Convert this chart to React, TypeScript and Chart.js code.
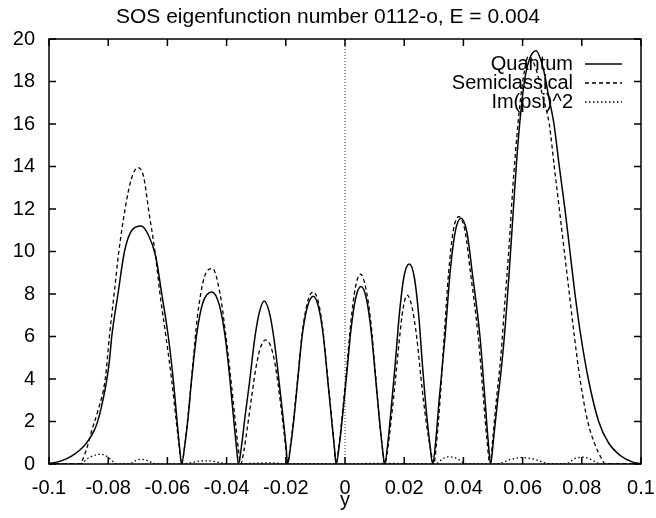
import { useEffect, useRef } from "react";
import { Chart, registerables } from "chart.js";

Chart.register(...registerables);

const FONT = '"Liberation Sans", Arial, Helvetica, sans-serif';
const TITLE = "SOS eigenfunction number 0112-o, E = 0.004";
const X_LABEL = "y";

const X_MIN = -0.1;
const X_MAX = 0.1;
const X_STEP = 0.02;
const Y_MIN = 0;
const Y_MAX = 20;
const Y_STEP = 2;

const quantumX = [
  -0.1, -0.097, -0.094, -0.091, -0.0885, -0.0865, -0.085, -0.0838, -0.0826, -0.0815, -0.0805, -0.0796, -0.0788, -0.0767, -0.0745, -0.072, -0.0689, -0.0665, -0.064, -0.0619, -0.0597, -0.058, -0.0567, -0.0559, -0.0552,
  -0.0542, -0.053, -0.0518, -0.05, -0.048, -0.045, -0.0425, -0.0405, -0.0389, -0.0374, -0.0366, -0.036,
  -0.035, -0.0338, -0.0323, -0.0305, -0.029, -0.0273, -0.0255, -0.024, -0.0222, -0.0207, -0.0199, -0.0194,
  -0.0184, -0.0172, -0.016, -0.0145, -0.0127, -0.0107, -0.0088, -0.0073, -0.0058, -0.0044, -0.0036, -0.003,
  -0.002, -0.0008, 0.0005, 0.002, 0.0036, 0.0054, 0.0072, 0.0088, 0.0103, 0.0117, 0.0126, 0.0134,
  0.0144, 0.0156, 0.0169, 0.0184, 0.0199, 0.0217, 0.0234, 0.0249, 0.0262, 0.0276, 0.0287, 0.0296,
  0.0306, 0.0318, 0.0338, 0.0355, 0.0372, 0.0392, 0.0412, 0.043, 0.0456, 0.0472, 0.0483, 0.0492,
  0.0502, 0.0515, 0.0529, 0.0542, 0.0554, 0.0566, 0.0578, 0.059, 0.0605, 0.0622, 0.0645, 0.067, 0.0688, 0.0706, 0.0724, 0.0743, 0.076, 0.0777, 0.0797, 0.0822, 0.0857, 0.089, 0.093, 0.097, 0.1,
];
const quantumY = [
  0.02, 0.1, 0.25, 0.5, 0.8, 1.15, 1.5, 1.9, 2.5, 3.2, 3.95, 4.85, 6.0, 8.0, 10.0, 11.0, 11.2, 10.8, 9.8, 8.0, 6.0, 3.95, 1.96, 0.8, 0,
  0.8, 2.2, 4.0, 6.2, 7.6, 8.1, 7.5, 6.0, 4.0, 1.8, 0.7, 0,
  0.8, 2.2, 3.8, 5.9, 7.1, 7.67, 7.1, 5.9, 3.8, 1.9, 0.8, 0,
  0.8, 2.2, 3.9, 6.0, 7.4, 7.9, 7.3, 6.0, 3.9, 1.9, 0.8, 0,
  0.8, 2.3, 4.1, 6.3, 7.8, 8.35, 7.8, 6.3, 4.1, 2.0, 0.8, 0,
  0.9, 2.6, 4.6, 7.1, 8.8, 9.41, 8.8, 7.0, 4.6, 2.3, 0.9, 0,
  1.0, 3.0, 6.0, 9.0, 10.9, 11.56, 10.9, 9.0, 6.0, 3.2, 1.2, 0,
  1.2, 2.9, 4.6, 6.6, 8.9, 11.4, 13.9, 16.0, 17.9, 19.0, 19.45, 18.6, 17.3, 16, 14, 12, 10, 8, 6, 4, 2, 1.0, 0.4, 0.1, 0.02,
];

const semiX = [
  -0.1, -0.0895, -0.0885, -0.087, -0.0855, -0.0835, -0.081, -0.0796, -0.078, -0.0764, -0.0743, -0.0722, -0.07, -0.068, -0.0664, -0.0642, -0.0625, -0.0605, -0.0586, -0.057, -0.056, -0.0552,
  -0.0542, -0.053, -0.0516, -0.0498, -0.0475, -0.0448, -0.0422, -0.0404, -0.0388, -0.0372, -0.0361, -0.0352,
  -0.0342, -0.033, -0.0316, -0.03, -0.0285, -0.0268, -0.025, -0.0235, -0.022, -0.0207, -0.0199, -0.0195,
  -0.0185, -0.0173, -0.016, -0.0145, -0.0127, -0.0107, -0.0088, -0.0073, -0.0058, -0.0044, -0.0036, -0.003,
  -0.002, -0.0008, 0.0005, 0.002, 0.0035, 0.0052, 0.007, 0.0087, 0.0102, 0.0116, 0.0126, 0.0134,
  0.0145, 0.0157, 0.017, 0.0184, 0.0196, 0.021, 0.0226, 0.0242, 0.0257, 0.0274, 0.0289, 0.03,
  0.031, 0.0322, 0.0336, 0.035, 0.0366, 0.0385, 0.0405, 0.0424, 0.045, 0.0467, 0.0479, 0.049,
  0.05, 0.0512, 0.0526, 0.054, 0.0552, 0.057, 0.059, 0.0605, 0.062, 0.0645, 0.0668, 0.069, 0.0707, 0.0724, 0.0741, 0.0758, 0.0775, 0.0794, 0.082, 0.0845, 0.0865, 0.088, 0.1,
];
const semiY = [
  0, 0, 0.25, 0.85, 1.6, 2.5, 4, 6, 8, 10, 12, 13.4, 13.95, 13.5, 12, 10, 8, 6, 4, 2, 0.8, 0,
  0.8, 2.3, 4.4, 7.0, 8.8, 9.2, 8.0, 6.2, 4.3, 2.2, 0.8, 0,
  0.6, 1.7, 3.1, 4.6, 5.5, 5.84, 5.5, 4.6, 3.1, 1.6, 0.6, 0,
  0.8, 2.2, 4.0, 6.1, 7.6, 8.1, 7.5, 6.1, 4.0, 2.0, 0.8, 0,
  0.9, 2.5, 4.4, 6.7, 8.3, 8.94, 8.3, 6.7, 4.4, 2.1, 0.8, 0,
  0.8, 2.2, 3.9, 5.9, 7.3, 7.95, 7.4, 6.0, 4.0, 2.0, 0.7, 0,
  1.1, 3.2, 6.2, 9.0, 11.0, 11.64, 11.0, 9.0, 6.0, 3.2, 1.2, 0,
  1.3, 3.1, 5.0, 7.6, 9.8, 13.6, 16.8, 18.4, 19.2, 18.6, 17.3, 16, 14, 12, 10, 8, 6, 4, 2, 0.9, 0.3, 0, 0,
];

const imX = [
  -0.1, -0.0895, -0.087, -0.0845, -0.0828, -0.081, -0.079, -0.0775, -0.0755, -0.0726, -0.0705, -0.0687, -0.0665, -0.0642, -0.058,
  -0.0537, -0.05, -0.0467, -0.0435, -0.04, -0.036, -0.03, -0.025, -0.02, -0.01, 0, 0.01, 0.02, 0.0307,
  0.033, 0.0351, 0.0375, 0.041, 0.049, 0.052, 0.056, 0.06, 0.064, 0.069, 0.0747, 0.0775, 0.0803, 0.083, 0.086, 0.09, 0.1,
];
const imY = [
  0, 0, 0.25, 0.42, 0.46, 0.4, 0.2, 0.02, 0, 0.02, 0.17, 0.22, 0.15, 0.02, 0,
  0.02, 0.12, 0.15, 0.1, 0.01, 0, 0.04, 0.05, 0.01, 0.02, 0, 0.03, 0.02, 0.01,
  0.25, 0.34, 0.28, 0.02, 0, 0.02, 0.22, 0.3, 0.22, 0.02, 0.02, 0.25, 0.32, 0.22, 0.02, 0, 0,
];

const zeroLineX = [0, 0];
const zeroLineY = [0, 20];

const toPoints = (xs: number[], ys: number[]) => xs.map((x, i) => ({ x, y: ys[i] }));

const framePlugin = {
  id: "gnuplotFrame",
  afterDraw(chart: any) {
    const { ctx, chartArea, scales } = chart;
    const { left, right, top, bottom } = chartArea;
    const xs = scales.x;
    const ys = scales.y;
    const tick = 7;
    ctx.save();
    ctx.strokeStyle = "#000";
    ctx.lineWidth = 1.5;
    ctx.setLineDash([]);
    ctx.strokeRect(left, top, right - left, bottom - top);
    ctx.beginPath();
    xs.ticks.forEach((t: any) => {
      const px = xs.getPixelForValue(t.value);
      ctx.moveTo(px, bottom);
      ctx.lineTo(px, bottom - tick);
      ctx.moveTo(px, top);
      ctx.lineTo(px, top + tick);
    });
    ys.ticks.forEach((t: any) => {
      const py = ys.getPixelForValue(t.value);
      ctx.moveTo(left, py);
      ctx.lineTo(left + tick, py);
      ctx.moveTo(right, py);
      ctx.lineTo(right - tick, py);
    });
    ctx.stroke();

    ctx.fillStyle = "#000";
    ctx.font = `21px ${FONT}`;
    ctx.textAlign = "center";
    ctx.textBaseline = "middle";
    ctx.fillText(TITLE, chart.width / 2, 17);

    ctx.font = `20px ${FONT}`;
    ctx.fillText(X_LABEL, (left + right) / 2, 500);

    // gnuplot-style key: right-aligned text, sample line on the right
    const items = chart.data.datasets.filter((d: any) => d.label);
    const textRight = 573;
    const sampleL = 585;
    const sampleR = 622;
    ctx.textAlign = "right";
    items.forEach((d: any, i: number) => {
      const yy = 64 + i * 19;
      ctx.fillText(d.label, textRight, yy);
      ctx.beginPath();
      ctx.lineWidth = d.borderWidth;
      ctx.setLineDash(d.borderDash || []);
      ctx.moveTo(sampleL, yy);
      ctx.lineTo(sampleR, yy);
      ctx.stroke();
    });
    ctx.restore();
  },
};

export default function App() {
  const ref = useRef<HTMLCanvasElement>(null);
  useEffect(() => {
    document.body.style.margin = "0";
    const canvas = ref.current;
    if (!canvas) return;
    const tickFont = { family: FONT, size: 20 };
    const chart = new Chart(canvas, {
      type: "line",
      data: {
        datasets: [
          {
            label: "Quantum",
            data: toPoints(quantumX, quantumY),
            borderColor: "#000",
            borderWidth: 1.5,
            pointRadius: 0,
            cubicInterpolationMode: "monotone",
            fill: false,
          },
          {
            label: "Semiclassical",
            data: toPoints(semiX, semiY),
            borderColor: "#000",
            borderWidth: 1.3,
            borderDash: [4, 3],
            pointRadius: 0,
            cubicInterpolationMode: "monotone",
            fill: false,
          },
          {
            label: "Im(psi)^2",
            data: toPoints(imX, imY),
            borderColor: "#000",
            borderWidth: 1.3,
            borderDash: [1.5, 2.5],
            pointRadius: 0,
            cubicInterpolationMode: "monotone",
            fill: false,
          },
          {
            label: "",
            data: toPoints(zeroLineX, zeroLineY),
            borderColor: "#333",
            borderWidth: 1,
            borderDash: [1, 2],
            pointRadius: 0,
            tension: 0,
            fill: false,
          },
        ],
      },
      options: {
        responsive: false,
        animation: false,
        devicePixelRatio: 1,
        layout: { padding: { top: 39, right: 15, left: 0, bottom: 0 } },
        plugins: {
          legend: { display: false },
          title: { display: false },
          tooltip: { enabled: false },
        },
        scales: {
          x: {
            type: "linear",
            min: X_MIN,
            max: X_MAX,
            ticks: {
              stepSize: X_STEP,
              autoSkip: false,
              maxRotation: 0,
              padding: 12,
              color: "#000",
              font: tickFont,
              callback: (v: any) => String(Number(Number(v).toFixed(2))),
            },
            grid: { display: false, drawTicks: false },
            border: { display: false },
            afterFit: (s: any) => {
              s.height = 54;
              s.paddingLeft = 0;
              s.paddingRight = 0;
            },
          },
          y: {
            type: "linear",
            min: Y_MIN,
            max: Y_MAX,
            ticks: {
              stepSize: Y_STEP,
              padding: 14,
              color: "#000",
              font: tickFont,
              callback: (v: any) => String(Number(v)),
            },
            grid: { display: false, drawTicks: false },
            border: { display: false },
            afterFit: (s: any) => {
              s.width = 49;
              s.paddingTop = 0;
              s.paddingBottom = 0;
            },
          },
        },
      },
      plugins: [framePlugin],
    } as any);
    return () => chart.destroy();
  }, []);
  return <canvas ref={ref} width={656} height={518} style={{ display: "block" }} />;
}
